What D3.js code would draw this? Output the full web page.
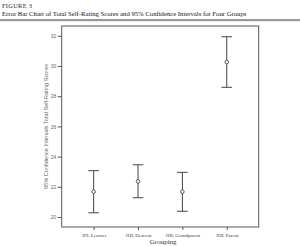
<!DOCTYPE html>
<html><head><meta charset="utf-8">
<script src="https://cdn.jsdelivr.net/npm/d3@7"></script>
<style>html,body{margin:0;padding:0;background:#fff;}svg{display:block;}text{-webkit-font-smoothing:antialiased;}</style>
</head><body>
<script>
const categories = ["JFL Learner", "JHL Descent", "JHL Grandparent", "JHL Parent"];
const means = [21.68, 22.36, 21.68, 30.26];
const lower = [20.28, 21.28, 20.38, 28.59];
const upper = [23.07, 23.46, 22.96, 31.94];
const yTicks = [20, 22, 24, 26, 28, 30, 32];

const W = 300, H = 246;
const svg = d3.select("body").append("svg").attr("width", W).attr("height", H);

// Title
svg.append("text").attr("x", 2).attr("y", 7.5)
  .attr("font-family", "Liberation Serif, serif").attr("font-size", 6.4)
  .attr("letter-spacing", 0.3).attr("fill", "#222").text("FIGURE 3");
svg.append("text").attr("x", 2).attr("y", 16)
  .attr("font-family", "Liberation Serif, serif").attr("font-size", 6.7)
  .attr("fill", "#111").text("Error Bar Chart of Total Self-Rating Scores and 95% Confidence Intervals for Four Groups");
svg.append("rect").attr("x", 0).attr("y", 19).attr("width", W).attr("height", 2.2).attr("fill", "#999");

const L = 61.7, R = 258.7, T = 26, B = 227;
const y = d3.scaleLinear().domain([19.34, 32.65]).range([B, T]);
const x = d3.scalePoint().domain(categories).range([L, R]).padding(0.72);

// frame
svg.append("rect").attr("x", L).attr("y", T).attr("width", R - L).attr("height", B - T)
  .attr("fill", "none").attr("stroke", "#555").attr("stroke-width", 1);

const yAxis = svg.append("g").attr("transform", `translate(${L},0)`)
  .call(d3.axisLeft(y).tickValues(yTicks).tickSize(4).tickPadding(1.5));
yAxis.select(".domain").remove();
yAxis.selectAll("line").attr("stroke", "#555");
yAxis.selectAll("text").attr("font-family", "Liberation Sans, sans-serif").attr("font-size", 5).attr("fill", "#666");

const xAxis = svg.append("g").attr("transform", `translate(0,${B})`)
  .call(d3.axisBottom(x).tickSize(3).tickPadding(3.5));
xAxis.select(".domain").remove();
xAxis.selectAll("line").attr("stroke", "#555");
xAxis.selectAll("text").attr("font-family", "Liberation Serif, serif").attr("font-size", 5).attr("fill", "#444");

svg.append("text").attr("x", (L + R) / 2 + 3).attr("y", 244)
  .attr("text-anchor", "middle").attr("font-family", "Liberation Serif, serif")
  .attr("font-size", 7).attr("fill", "#333").text("Grouping");

svg.append("text").attr("transform", `translate(47.5,${(T + B) / 2}) rotate(-90)`)
  .attr("text-anchor", "middle").attr("font-family", "Liberation Sans, sans-serif")
  .attr("font-size", 5.6).attr("fill", "#666").text("95% Confidence Intervals Total Self-Rating Scores");

const g = svg.append("g").selectAll("g").data(categories).join("g");
const cap = 5.3;
g.append("line").attr("x1", d => x(d)).attr("x2", d => x(d))
  .attr("y1", (d, i) => y(upper[i])).attr("y2", (d, i) => y(lower[i]))
  .attr("stroke", "#444").attr("stroke-width", 1);
g.append("line").attr("x1", d => x(d) - cap).attr("x2", d => x(d) + cap)
  .attr("y1", (d, i) => y(upper[i])).attr("y2", (d, i) => y(upper[i]))
  .attr("stroke", "#444").attr("stroke-width", 1);
g.append("line").attr("x1", d => x(d) - cap).attr("x2", d => x(d) + cap)
  .attr("y1", (d, i) => y(lower[i])).attr("y2", (d, i) => y(lower[i]))
  .attr("stroke", "#444").attr("stroke-width", 1);
g.append("circle").attr("cx", d => x(d)).attr("cy", (d, i) => y(means[i])).attr("r", 1.8)
  .attr("fill", "#fff").attr("stroke", "#444").attr("stroke-width", 0.9);
</script>
</body></html>
